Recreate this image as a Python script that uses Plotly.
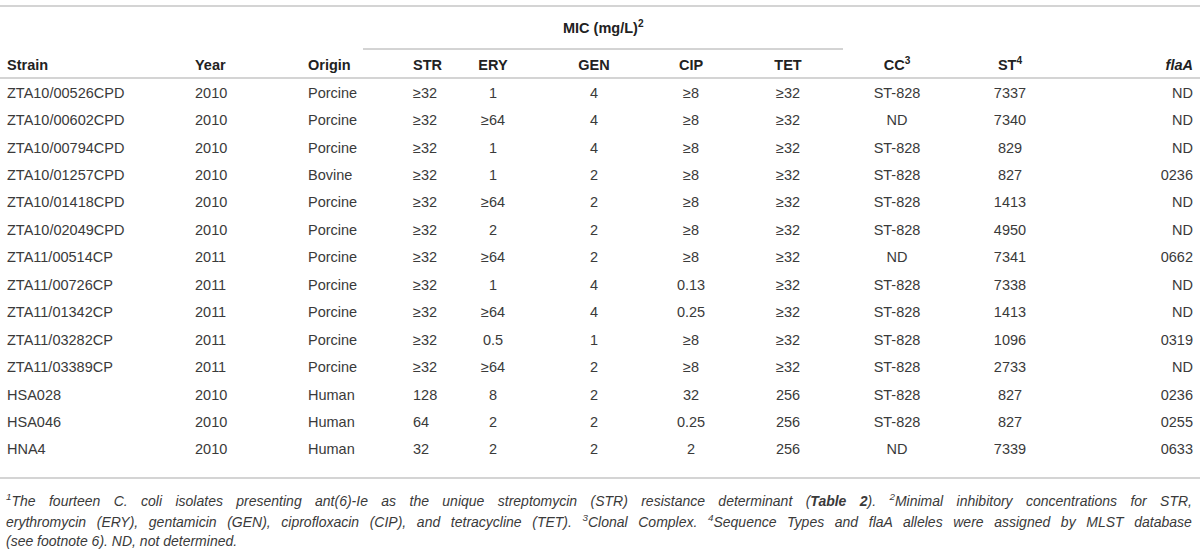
import plotly.graph_objects as go

# table content
strains = ["ZTA10/00526CPD", "ZTA10/00602CPD", "ZTA10/00794CPD", "ZTA10/01257CPD",
           "ZTA10/01418CPD", "ZTA10/02049CPD", "ZTA11/00514CP", "ZTA11/00726CP",
           "ZTA11/01342CP", "ZTA11/03282CP", "ZTA11/03389CP", "HSA028", "HSA046", "HNA4"]
years = ["2010", "2010", "2010", "2010", "2010", "2010", "2011", "2011",
         "2011", "2011", "2011", "2010", "2010", "2010"]
origins = ["Porcine", "Porcine", "Porcine", "Bovine", "Porcine", "Porcine", "Porcine",
           "Porcine", "Porcine", "Porcine", "Porcine", "Human", "Human", "Human"]
mic_str = ["≥32"] * 11 + ["128", "64", "32"]
mic_ery = ["1", "≥64", "1", "1", "≥64", "2", "≥64", "1", "≥64", "0.5", "≥64", "8", "2", "2"]
mic_gen = ["4", "4", "4", "2", "2", "2", "2", "4", "4", "1", "2", "2", "2", "2"]
mic_cip = ["≥8", "≥8", "≥8", "≥8", "≥8", "≥8", "≥8", "0.13", "0.25", "≥8", "≥8", "32", "0.25", "2"]
mic_tet = ["≥32"] * 11 + ["256", "256", "256"]
cc = ["ST-828", "ND", "ST-828", "ST-828", "ST-828", "ST-828", "ND", "ST-828",
      "ST-828", "ST-828", "ST-828", "ST-828", "ST-828", "ND"]
st = ["7337", "7340", "829", "827", "1413", "4950", "7341", "7338",
      "1413", "1096", "2733", "827", "827", "7339"]
flaa = ["ND", "ND", "ND", "0236", "ND", "ND", "0662", "ND",
        "ND", "0319", "ND", "0236", "0255", "0633"]

headers = ["Strain", "Year", "Origin", "STR", "ERY", "GEN", "CIP", "TET",
           "CC<sup>3</sup>", "ST<sup>4</sup>", "<i>flaA</i>"]
group_title = "MIC (mg/L)<sup>2</sup>"

footnote = [
    "<sup>1</sup>The fourteen C. coli isolates presenting ant(6)-Ie as the unique streptomycin (STR) "
    "resistance determinant (<b>Table 2</b>). <sup>2</sup>Minimal inhibitory concentrations for STR,",
    "erythromycin (ERY), gentamicin (GEN), ciprofloxacin (CIP), and tetracycline (TET). "
    "<sup>3</sup>Clonal Complex. <sup>4</sup>Sequence Types and flaA alleles were assigned by MLST database",
    "(see footnote 6). ND, not determined.",
]

columns = [strains, years, origins, mic_str, mic_ery, mic_gen, mic_cip, mic_tet, cc, st, flaa]

# layout of the page (pixels of the 1200x555 window)
W, H = 1200, 555
ROW0, ROW_H = 94, 27.45
col_x = [7, 195, 308, 413, 493, 594, 691, 788, 897, 1010, 1193]
col_pos = ["middle right", "middle right", "middle right", "middle right",
           "middle center", "middle center", "middle center", "middle center",
           "middle center", "middle center", "middle left"]


def row(px):
    # pixel height -> row units on the y axis
    return (px - ROW0) / ROW_H


TXT = "#3a3a3a"
HEAD = "#222222"
FONT = "Liberation Sans, Arial, sans-serif"

fig = go.Figure()
rows = list(range(len(strains)))

for vals, x, pos in zip(columns, col_x, col_pos):
    fig.add_trace(go.Scatter(
        x=[x] * len(vals), y=rows, text=vals, mode="text", textposition=pos,
        textfont=dict(family=FONT, size=14.5, color=TXT), hoverinfo="skip",
        cliponaxis=False, showlegend=False))

# header row
fig.add_trace(go.Scatter(
    x=col_x, y=[row(66)] * len(headers), text=["<b>%s</b>" % h for h in headers],
    mode="text", textposition=col_pos, cliponaxis=False,
    textfont=dict(family=FONT, size=14.5, color=HEAD), hoverinfo="skip", showlegend=False))

fig.add_annotation(x=603, y=row(27), text="<b>%s</b>" % group_title, showarrow=False,
                   xanchor="center", yanchor="middle",
                   font=dict(family=FONT, size=14.5, color=HEAD))

for i, line in enumerate(footnote):
    fig.add_annotation(x=4, y=row(500 + 20.5 * i), text="<i>%s</i>" % line, showarrow=False,
                       xanchor="left", yanchor="middle", align="left",
                       font=dict(family=FONT, size=14, color=TXT))

# rules
fig.add_shape(type="line", x0=363, x1=843, y0=row(49), y1=row(49),
              line=dict(color="#a8a8a8", width=1))
for y0 in [6, 78, 478]:
    fig.add_shape(type="line", x0=0, x1=W, y0=row(y0), y1=row(y0),
                  line=dict(color="#d4d4d4", width=2))

fig.update_layout(
    width=W, height=H, margin=dict(l=0, r=0, t=0, b=0),
    paper_bgcolor="white", plot_bgcolor="white",
    xaxis=dict(range=[0, W], visible=False, fixedrange=True),
    yaxis=dict(range=[row(H), row(0)], visible=False, fixedrange=True),
)

# no body margin, and justify the first two footnote lines (annotations 1 and 2)
post = """
document.body.style.margin = '0';
var gd = document.getElementById('{plot_id}');
[1, 2].forEach(function (k) {
  var t = gd.querySelector('.annotation[data-index="' + k + '"] .annotation-text');
  if (!t) return;
  var gaps = (t.textContent.match(/ /g) || []).length;
  var w = t.getBBox().width;
  if (gaps > 0) t.style.wordSpacing = ((1186 - w) / gaps) + 'px';
});
"""
fig.write_html("out.html", config={"displayModeBar": False}, post_script=post)
